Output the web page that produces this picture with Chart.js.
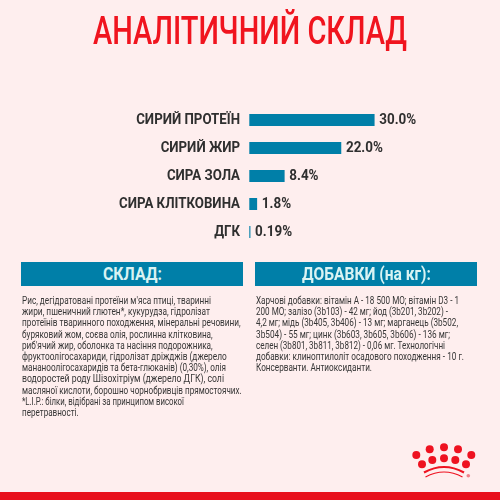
<!DOCTYPE html>
<html lang="uk">
<head>
<meta charset="utf-8">
<script src="https://cdn.jsdelivr.net/npm/chart.js@4"></script>
<style>
html,body{margin:0;padding:0;width:500px;height:500px;overflow:hidden;background:#feeeee}
#wrap{position:relative;width:500px;height:500px;overflow:hidden}
canvas{position:absolute;left:0;top:0}
.t{position:absolute;white-space:nowrap;transform-origin:0 0;font-family:Roboto,sans-serif}
.panel{position:absolute;top:261.5px;height:24px;width:222px;background:#007fa8}
.line{font-size:10px;line-height:12px;color:#363636;font-weight:400}
.h{font-size:18px;line-height:24px;font-weight:700;color:#d9f3f3;top:262px}
#title{font-size:38px;line-height:44px;font-weight:500;color:#f0141e;left:93px;top:9px}
#band{position:absolute;left:0;top:492px;width:500px;height:8px;background:#e8101c}
svg{position:absolute;left:400px;top:420px}
</style>
</head>
<body>
<div id="wrap">
<canvas id="c" width="500" height="500"></canvas>
<div class="t" id="title" data-w="314">АНАЛІТИЧНИЙ СКЛАД</div>
<div class="panel" style="left:21px"></div>
<div class="panel" style="left:255px"></div>
<div class="t h" data-w="59" style="left:103px">СКЛАД:</div>
<div class="t h" data-w="129" style="left:302px">ДОБАВКИ (на кг):</div>
<div id="lines"></div>
<svg width="100" height="72" viewBox="0 0 100 72">
<g fill="#ee1220">
<circle cx="16.3" cy="35" r="4"/><circle cx="29.7" cy="29.3" r="4"/><circle cx="44" cy="27.3" r="4"/><circle cx="58" cy="29.3" r="4"/><circle cx="71.3" cy="35" r="4"/>
<circle cx="22" cy="44.3" r="4"/><circle cx="32.3" cy="40" r="4"/><circle cx="44" cy="38.3" r="4"/><circle cx="55.3" cy="40" r="4"/><circle cx="66" cy="44.3" r="4"/>
</g>
<path d="M24 52.5Q44 41.5 64 52.5" fill="none" stroke="#ee1220" stroke-width="2.2"/>
<path d="M25.5 57Q44 47 62.5 57" fill="none" stroke="#ee1220" stroke-width="1.2"/>
<circle cx="68.3" cy="55.7" r="1.8" fill="#f08088"/>
</svg>
<div id="band"></div>
</div>
<script>
const categories = ["СИРИЙ ПРОТЕЇН", "СИРИЙ ЖИР", "СИРА ЗОЛА", "СИРА КЛІТКОВИНА", "ДГК"];
const values = [30.0, 22.0, 8.4, 1.8, 0.19];
const valueLabels = ["30.0%", "22.0%", "8.4%", "1.8%", "0.19%"];
const leftLines = [
 ["Рис, дегідратовані протеїни м'яса птиці, тваринні",211],
 ["жири, пшеничний глютен*, кукурудза, гідролізат",210],
 ["протеїнів тваринного походження, мінеральні речовини,",240.7],
 ["буряковий жом, соєва олія, рослинна клітковина,",212.7],
 ["риб'ячий жир, оболонка та насіння подорожника,",212.7],
 ["фруктоолігосахариди, гідролізат дріжджів (джерело",226.7],
 ["мананоолігосахаридів та бета-глюканів) (0,30%), олія",226],
 ["водоростей роду Шізохітріум (джерело ДГК), солі",224],
 ["масляної кислоти, борошно чорнобривців прямостоячих.",241.7],
 ["*L.I.P.: білки, відібрані за принципом високої",184],
 ["перетравності.",78.7]
];
const rightLines = [
 ["Харчові добавки: вітамін А - 18 500 МО; вітамін D3 - 1",459],
 ["200 МО; залізо (3b103) - 42 мг; йод (3b201, 3b202) -",448],
 ["4,2 мг; мідь (3b405, 3b406) - 13 мг; марганець (3b502,",458],
 ["3b504) - 55 мг; цинк (3b603, 3b605, 3b606) - 136 мг;",450],
 ["селен (3b801, 3b811, 3b812) - 0,06 мг. Технологічні",445],
 ["добавки: клиноптилоліт осадового походження - 10 г.",464],
 ["Консерванти. Антиоксиданти.",372]
];
const host = document.getElementById('lines');
function addLines(list, x){
  list.forEach((l,i)=>{
    const d=document.createElement('div');
    d.className='t line';
    d.textContent=l[0];
    d.style.left=x+'px';
    d.style.top=(295+i*11.2)+'px';
    d.dataset.w=l[1]-x;
    host.appendChild(d);
  });
}
addLines(leftLines,22);
addLines(rightLines,256);
function fit(){
  document.querySelectorAll('.t[data-w]').forEach(e=>{
    e.style.transform='none';
    const w=e.getBoundingClientRect().width;
    e.style.transform='scaleX('+(parseFloat(e.dataset.w)/w)+')';
  });
}
fit();
if(document.fonts&&document.fonts.ready)document.fonts.ready.then(fit);

const narrowText = {
  id:'narrowText',
  afterDatasetsDraw(chart){
    const ctx=chart.ctx, m=chart.getDatasetMeta(0), y=chart.scales.y;
    const put=(txt,x,py,k,align)=>{
      ctx.save();
      ctx.translate(x,py);
      ctx.scale(k,1);
      ctx.textAlign=align;
      ctx.fillText(txt,0,0);
      ctx.restore();
    };
    ctx.save();
    ctx.font='700 15px Roboto';
    ctx.fillStyle='#2f2f2f';
    ctx.textBaseline='middle';
    const kLab=121/ctx.measureText(categories[3]).width;
    const kVal=37/ctx.measureText(valueLabels[0]).width;
    categories.forEach((c,i)=>put(c,240,y.getPixelForValue(i)+0.5,kLab,'right'));
    m.data.forEach((b,i)=>put(valueLabels[i],b.x+5,b.y+0.5,kVal,'left'));
    ctx.restore();
  }
};
new Chart(document.getElementById('c'),{
  type:'bar',
  data:{labels:categories,datasets:[{data:values,backgroundColor:'#007fa8',barThickness:11.5,borderWidth:0}]},
  options:{
    indexAxis:'y',responsive:false,animation:false,devicePixelRatio:1,
    layout:{padding:{top:106,bottom:254,left:0,right:0.8}},
    plugins:{legend:{display:false},tooltip:{enabled:false}},
    scales:{
      x:{display:false,min:0,max:60},
      y:{
        afterFit(s){s.width=249.3;},
        border:{display:false},
        grid:{display:false,drawTicks:false},
        ticks:{display:false}
      }
    }
  },
  plugins:[narrowText]
});
</script>
</body>
</html>
